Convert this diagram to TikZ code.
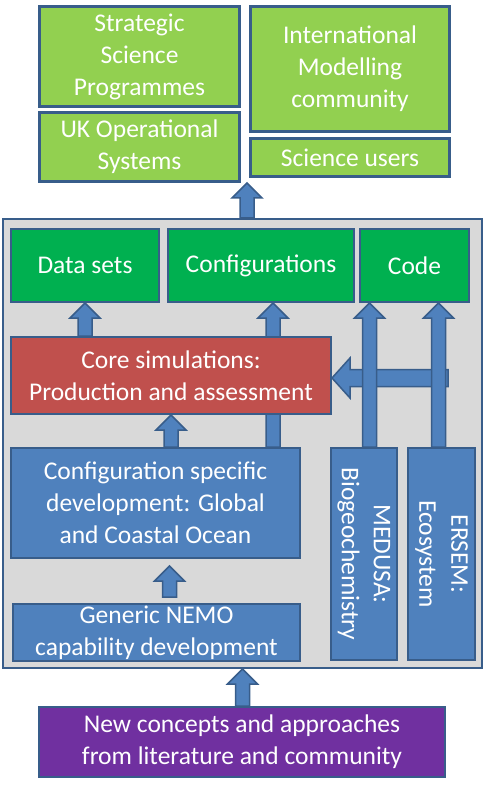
\documentclass[tikz,border=0pt]{standalone}
\usepackage{fontspec}
\setmainfont{Carlito}
\usetikzlibrary{calc}

\definecolor{boxline}{HTML}{385D8A}
\definecolor{usergreen}{HTML}{92D050}
\definecolor{prodgreen}{HTML}{00B050}
\definecolor{devblue}{HTML}{4F81BD}
\definecolor{panelgray}{HTML}{D9D9D9}
\definecolor{corered}{HTML}{C0504D}
\definecolor{newpurple}{HTML}{7030A0}

\begin{document}
\begin{tikzpicture}
	[x=1pt,y=-1pt,
	 every node/.style={draw=boxline,line width=2pt,text=white,align=center,inner sep=0pt,
	   font=\fontsize{25.5}{32}\selectfont},
	 user/.style={fill=usergreen,line width=3pt},
	 product/.style={fill=prodgreen},
	 dev/.style={fill=devblue},
	 arrowbody/.style={draw=boxline,fill=devblue,line width=1.5pt,line join=miter},
	 fatup/.style={arrowbody,to path={let \p1=(\tikztostart), \p2=(\tikztotarget) in
	   (\x2,\y2) -- (\x2+15pt,\y2-15pt) -- (\x2+7pt,\y2-15pt) -- (\x2+7pt,\y1)
	   -- (\x2-7pt,\y1) -- (\x2-7pt,\y2-15pt) -- (\x2-15pt,\y2-15pt) -- cycle}},
	 fatleft/.style={arrowbody,to path={let \p1=(\tikztostart), \p2=(\tikztotarget) in
	   (\x2,\y2) -- (\x2+18pt,\y2+20pt) -- (\x2+18pt,\y2+8.5pt) -- (\x1,\y2+8.5pt)
	   -- (\x1,\y2-8.5pt) -- (\x2+18pt,\y2-8.5pt) -- (\x2+18pt,\y2-20pt) -- cycle}}]
	\useasboundingbox (0,0) rectangle (485,791);

	\node[fill=panelgray,minimum width=479pt,minimum height=449pt] (frame) at (242.5,443.5) {};

	\node[user,minimum width=200pt,minimum height=100pt] (ssp) at (139.5,56.5) {Strategic\\Science\\Programmes};
	\node[user,minimum width=200pt,minimum height=69pt] (uko) at (139.5,147) {UK Operational\\Systems};
	\node[user,minimum width=199pt,minimum height=125pt] (imc) at (350,69) {International\\Modelling\\community};
	\node[user,minimum width=199pt,minimum height=38pt] (scu) at (350,157.5) {Science users};
	\coordinate (topgap) at (247,183);

	\node[product,minimum width=148pt,minimum height=73pt] (data) at (85,265.5) {Data sets};
	\node[product,minimum width=186pt,minimum height=73pt] (conf) at (261,265.5) {Configurations};
	\node[product,minimum width=109pt,minimum height=73pt] (code) at (414.5,265.5) {Code};
	\coordinate (medtip) at ([xshift=-45pt]code.south);
	\coordinate (erstip) at ([xshift=24pt]code.south);

	\node[dev,minimum width=289pt,minimum height=110pt] (cfg) at (155.5,503) {Configuration specific\\development: Global\\and Coastal Ocean};
	\node[dev,minimum width=287pt,minimum height=57pt] (gen) at (156.5,632.5) {Generic NEMO\\capability development};
	\node[dev,rotate=-90,minimum width=212pt,minimum height=66pt] (med) at (364,554) {MEDUSA:\\Biogeochemistry};
	\node[dev,rotate=-90,minimum width=212pt,minimum height=67pt] (ers) at (441.5,554) {ERSEM:\\Ecosystem};
	\node[fill=newpurple,minimum width=406pt,minimum height=70pt] (new) at (242,742) {New concepts and approaches\\from literature and community};

	% runs behind the core box
	\draw[fatup] (cfg.north) to ([xshift=12pt]conf.south);
	\node[fill=corered,minimum width=320pt,minimum height=77pt] (core) at (171,375.5) {Core simulations:\\Production and assessment};

	\coordinate (bgc) at (448,378);
	\draw[fatleft] (bgc) to (core.east |- bgc);

	\draw[fatup] ([yshift=6pt]gen.north) to ([xshift=14pt,yshift=-7pt]cfg.south);
	\foreach \from/\to in {frame.north/topgap,new.north/frame.south,core.north/data.south,
	    cfg.north/core.south,med.west/medtip,ers.west/erstip}
	\draw[fatup] (\from) to (\to);

\end{tikzpicture}
\end{document}
